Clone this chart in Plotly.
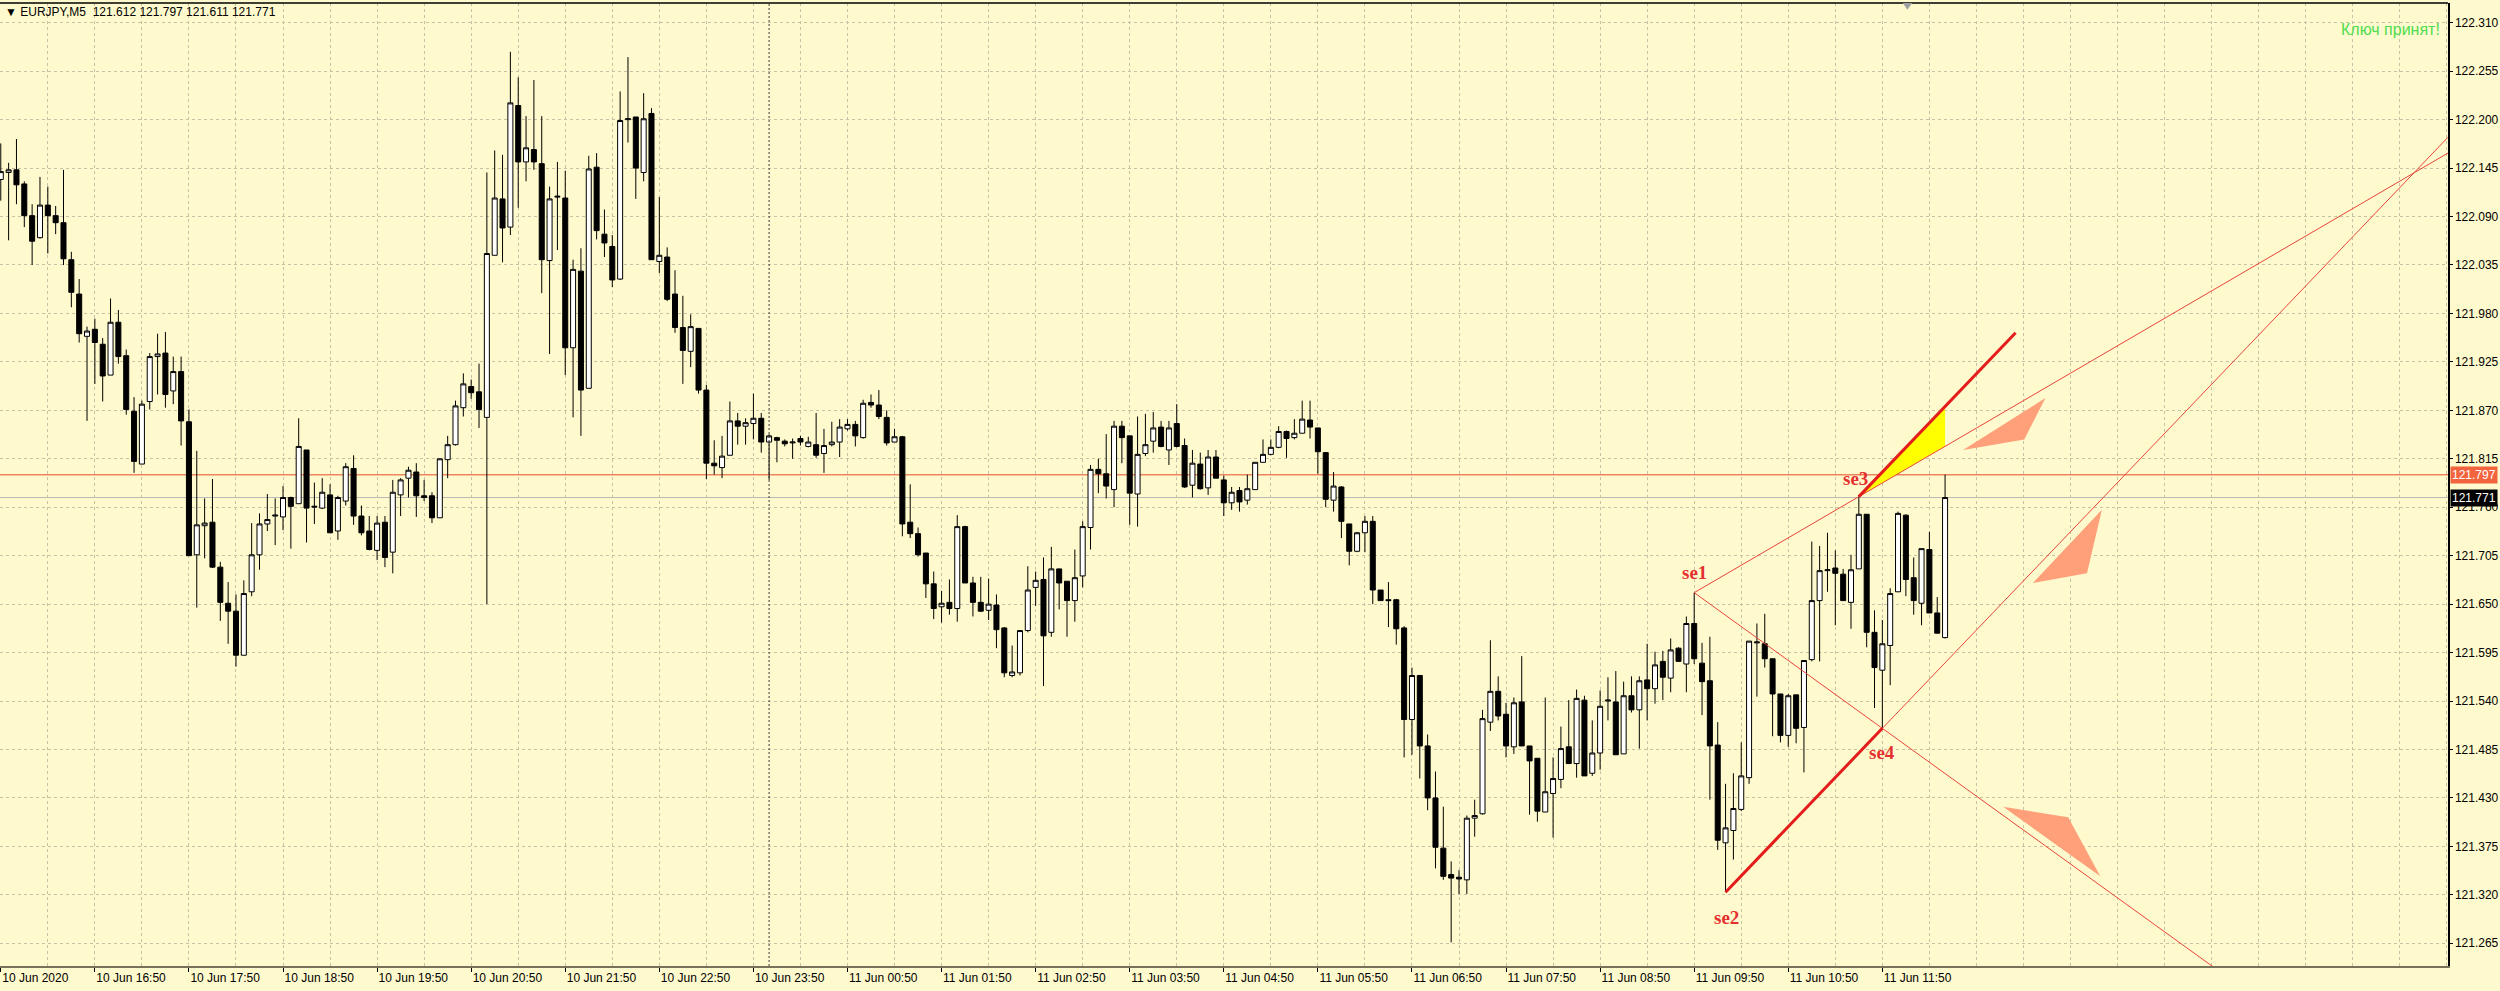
import plotly.graph_objects as go

# ---------------- data (EURJPY, M5, 10 Jun 15:50 -> 11 Jun 12:30) ----------------
opens = [
    122.132, 122.140, 122.143, 122.127, 122.091, 122.066, 122.103, 122.091, 122.083, 122.041,
    122.002, 121.954, 121.962, 121.945, 121.910, 121.970, 121.932, 121.869, 121.809, 121.880,
    121.931, 121.935, 121.892, 121.914, 121.857, 121.706, 121.739, 121.743, 121.692, 121.651,
    121.642, 121.592, 121.664, 121.706, 121.741, 121.750, 121.749, 121.771, 121.764, 121.825,
    121.760, 121.759, 121.774, 121.733, 121.767, 121.804, 121.750, 121.733, 121.711, 121.743,
    121.709, 121.774, 121.793, 121.800, 121.773, 121.773, 121.748, 121.814, 121.831, 121.873,
    121.897, 121.891, 121.862, 122.046, 122.110, 122.078, 122.216, 122.152, 122.166, 122.150,
    122.040, 122.112, 122.111, 121.941, 122.028, 121.895, 122.146, 122.070, 122.056, 122.019,
    122.200, 122.203, 122.140, 122.207, 122.039, 122.044, 122.002, 121.964, 121.937, 121.963,
    121.893, 121.810, 121.805, 121.819, 121.858, 121.852, 121.855, 121.861, 121.834, 121.839,
    121.835, 121.833, 121.838, 121.829, 121.831, 121.821, 121.831, 121.834, 121.849, 121.854,
    121.839, 121.879, 121.876, 121.862, 121.834, 121.840, 121.743, 121.730, 121.708, 121.673,
    121.647, 121.652, 121.645, 121.738, 121.674, 121.652, 121.643, 121.649, 121.623, 121.569,
    121.572, 121.620, 121.669, 121.678, 121.618, 121.690, 121.676, 121.654, 121.682, 121.737,
    121.803, 121.798, 121.780, 121.852, 121.841, 121.775, 121.821, 121.835, 121.851, 121.825,
    121.855, 121.830, 121.785, 121.809, 121.782, 121.817, 121.791, 121.765, 121.779, 121.768,
    121.780, 121.811, 121.820, 121.828, 121.846, 121.839, 121.844, 121.859, 121.850, 121.822,
    121.768, 121.783, 121.741, 121.710, 121.731, 121.744, 121.666, 121.655, 121.655, 121.623,
    121.519, 121.569, 121.489, 121.430, 121.373, 121.343, 121.340, 121.337, 121.407, 121.412,
    121.516, 121.551, 121.525, 121.488, 121.539, 121.489, 121.475, 121.414, 121.435, 121.451,
    121.488, 121.469, 121.541, 121.458, 121.481, 121.540, 121.539, 121.480, 121.546, 121.530,
    121.564, 121.554, 121.585, 121.566, 121.600, 121.582, 121.628, 121.583, 121.563, 121.490,
    121.379, 121.393, 121.417, 121.453, 121.606, 121.605, 121.588, 121.548, 121.501, 121.547,
    121.510, 121.587, 121.654, 121.688, 121.691, 121.684, 121.652, 121.690, 121.752, 121.618,
    121.575, 121.603, 121.664, 121.751, 121.680, 121.651, 121.712, 121.640, 121.612,
]
highs = [
    122.173, 122.151, 122.178, 122.130, 122.104, 122.135, 122.124, 122.102, 122.143, 122.050,
    122.019, 121.965, 121.974, 121.952, 121.997, 121.984, 121.939, 121.885, 121.881, 121.935,
    121.957, 121.959, 121.931, 121.931, 121.871, 121.824, 121.770, 121.792, 121.698, 121.675,
    121.661, 121.677, 121.742, 121.753, 121.775, 121.770, 121.784, 121.772, 121.861, 121.825,
    121.788, 121.793, 121.786, 121.773, 121.810, 121.819, 121.762, 121.750, 121.750, 121.750,
    121.791, 121.793, 121.806, 121.810, 121.791, 121.777, 121.815, 121.841, 121.881, 121.912,
    121.905, 121.923, 122.140, 122.165, 122.160, 122.277, 122.248, 122.204, 122.245, 122.204,
    122.124, 122.152, 122.142, 122.041, 122.054, 122.159, 122.162, 122.098, 122.069, 122.232,
    122.271, 122.203, 122.230, 122.213, 122.112, 122.055, 122.029, 122.000, 121.979, 121.963,
    121.899, 121.836, 121.841, 121.880, 121.867, 121.861, 121.889, 121.867, 121.843, 121.840,
    121.837, 121.838, 121.841, 121.840, 121.867, 121.849, 121.857, 121.860, 121.860, 121.858,
    121.882, 121.888, 121.893, 121.870, 121.849, 121.841, 121.786, 121.737, 121.708, 121.687,
    121.665, 121.678, 121.751, 121.739, 121.681, 121.681, 121.679, 121.661, 121.624, 121.603,
    121.620, 121.693, 121.687, 121.703, 121.715, 121.690, 121.676, 121.712, 121.744, 121.808,
    121.815, 121.843, 121.858, 121.858, 121.841, 121.863, 121.866, 121.868, 121.858, 121.858,
    121.877, 121.838, 121.825, 121.822, 121.825, 121.825, 121.796, 121.783, 121.783, 121.797,
    121.811, 121.837, 121.837, 121.852, 121.847, 121.860, 121.881, 121.881, 121.850, 121.822,
    121.800, 121.784, 121.741, 121.732, 121.750, 121.750, 121.666, 121.675, 121.656, 121.625,
    121.578, 121.569, 121.502, 121.460, 121.420, 121.358, 121.348, 121.410, 121.428, 121.530,
    121.609, 121.568, 121.538, 121.544, 121.591, 121.489, 121.475, 121.544, 121.476, 121.511,
    121.541, 121.553, 121.546, 121.518, 121.552, 121.567, 121.574, 121.562, 121.568, 121.568,
    121.605, 121.596, 121.597, 121.611, 121.601, 121.636, 121.663, 121.606, 121.613, 121.516,
    121.446, 121.458, 121.493, 121.608, 121.628, 121.639, 121.588, 121.548, 121.548, 121.547,
    121.586, 121.721, 121.716, 121.731, 121.711, 121.690, 121.706, 121.774, 121.752, 121.643,
    121.632, 121.668, 121.755, 121.752, 121.703, 121.713, 121.732, 121.658, 121.797,
]
lows = [
    122.108, 122.063, 122.104, 122.078, 122.035, 122.065, 122.048, 122.070, 122.035, 121.987,
    121.947, 121.858, 121.900, 121.880, 121.910, 121.923, 121.865, 121.799, 121.809, 121.871,
    121.888, 121.873, 121.877, 121.830, 121.705, 121.646, 121.702, 121.691, 121.631, 121.605,
    121.579, 121.592, 121.659, 121.689, 121.733, 121.717, 121.734, 121.713, 121.764, 121.720,
    121.741, 121.758, 121.731, 121.723, 121.762, 121.740, 121.728, 121.711, 121.700, 121.692,
    121.685, 121.750, 121.771, 121.749, 121.767, 121.742, 121.748, 121.793, 121.830, 121.863,
    121.883, 121.850, 121.650, 122.046, 122.038, 122.069, 122.100, 122.130, 122.143, 122.003,
    121.934, 122.052, 121.910, 121.862, 121.841, 121.895, 122.064, 122.044, 122.010, 122.018,
    122.174, 122.110, 122.130, 122.041, 122.026, 121.994, 121.958, 121.900, 121.919, 121.889,
    121.792, 121.797, 121.793, 121.819, 121.831, 121.831, 121.837, 121.822, 121.791, 121.811,
    121.829, 121.815, 121.830, 121.828, 121.816, 121.799, 121.829, 121.817, 121.847, 121.829,
    121.838, 121.873, 121.860, 121.830, 121.834, 121.727, 121.725, 121.704, 121.657, 121.633,
    121.629, 121.638, 121.630, 121.674, 121.636, 121.641, 121.632, 121.600, 121.567, 121.567,
    121.569, 121.618, 121.648, 121.557, 121.613, 121.644, 121.613, 121.630, 121.669, 121.712,
    121.776, 121.770, 121.760, 121.810, 121.740, 121.738, 121.818, 121.822, 121.828, 121.808,
    121.828, 121.782, 121.771, 121.780, 121.774, 121.793, 121.750, 121.757, 121.755, 121.763,
    121.780, 121.811, 121.819, 121.827, 121.816, 121.837, 121.844, 121.838, 121.798, 121.760,
    121.755, 121.725, 121.694, 121.709, 121.709, 121.650, 121.654, 121.624, 121.604, 121.476,
    121.479, 121.452, 121.416, 121.350, 121.337, 121.266, 121.321, 121.321, 121.386, 121.411,
    121.506, 121.518, 121.476, 121.480, 121.489, 121.411, 121.403, 121.414, 121.385, 121.441,
    121.469, 121.453, 121.455, 121.455, 121.462, 121.518, 121.479, 121.480, 121.527, 121.486,
    121.518, 121.537, 121.541, 121.550, 121.585, 121.550, 121.582, 121.524, 121.428, 121.371,
    121.323, 121.360, 121.415, 121.446, 121.545, 121.578, 121.500, 121.493, 121.488, 121.492,
    121.459, 121.585, 121.585, 121.664, 121.626, 121.654, 121.622, 121.690, 121.601, 121.532,
    121.509, 121.558, 121.664, 121.659, 121.638, 121.626, 121.640, 121.617, 121.611,
]
closes = [
    122.141, 122.143, 122.126, 122.091, 122.062, 122.103, 122.091, 122.083, 122.042, 122.004,
    121.957, 121.960, 121.947, 121.909, 121.970, 121.931, 121.871, 121.812, 121.877, 121.931,
    121.934, 121.888, 121.914, 121.858, 121.705, 121.740, 121.742, 121.692, 121.652, 121.642,
    121.592, 121.662, 121.706, 121.741, 121.746, 121.751, 121.771, 121.761, 121.829, 121.759,
    121.761, 121.777, 121.731, 121.771, 121.806, 121.750, 121.731, 121.712, 121.742, 121.703,
    121.777, 121.791, 121.802, 121.773, 121.771, 121.748, 121.815, 121.831, 121.875, 121.900,
    121.890, 121.871, 122.048, 122.111, 122.077, 122.219, 122.152, 122.168, 122.152, 122.041,
    122.110, 122.113, 121.941, 122.030, 121.893, 122.144, 122.074, 122.060, 122.018, 122.199,
    122.201, 122.145, 122.201, 122.041, 122.046, 121.996, 121.964, 121.938, 121.965, 121.893,
    121.810, 121.807, 121.818, 121.858, 121.852, 121.856, 121.861, 121.834, 121.841, 121.836,
    121.832, 121.834, 121.834, 121.834, 121.819, 121.830, 121.834, 121.851, 121.854, 121.841,
    121.878, 121.876, 121.863, 121.833, 121.840, 121.741, 121.730, 121.706, 121.673, 121.645,
    121.651, 121.645, 121.738, 121.674, 121.652, 121.642, 121.650, 121.621, 121.572, 121.573,
    121.620, 121.666, 121.677, 121.614, 121.690, 121.674, 121.654, 121.680, 121.738, 121.803,
    121.798, 121.784, 121.852, 121.839, 121.776, 121.820, 121.831, 121.850, 121.829, 121.850,
    121.829, 121.783, 121.810, 121.781, 121.817, 121.793, 121.765, 121.777, 121.766, 121.781,
    121.811, 121.820, 121.828, 121.846, 121.838, 121.844, 121.860, 121.851, 121.823, 121.769,
    121.784, 121.744, 121.710, 121.731, 121.744, 121.666, 121.654, 121.654, 121.622, 121.519,
    121.569, 121.489, 121.430, 121.374, 121.341, 121.339, 121.338, 121.407, 121.410, 121.520,
    121.551, 121.523, 121.489, 121.538, 121.489, 121.472, 121.415, 121.437, 121.452, 121.486,
    121.469, 121.543, 121.455, 121.481, 121.534, 121.541, 121.479, 121.546, 121.530, 121.563,
    121.554, 121.581, 121.567, 121.598, 121.585, 121.628, 121.588, 121.562, 121.489, 121.382,
    121.396, 121.418, 121.455, 121.608, 121.607, 121.588, 121.548, 121.501, 121.546, 121.509,
    121.586, 121.654, 121.688, 121.689, 121.685, 121.654, 121.689, 121.752, 121.618, 121.578,
    121.605, 121.662, 121.753, 121.678, 121.654, 121.713, 121.640, 121.617, 121.771,
]

# time axis labels (one every 12 bars = 1 hour)
time_labels = [
    "10 Jun 2020", "10 Jun 16:50", "10 Jun 17:50", "10 Jun 18:50", "10 Jun 19:50",
    "10 Jun 20:50", "10 Jun 21:50", "10 Jun 22:50", "10 Jun 23:50", "11 Jun 00:50",
    "11 Jun 01:50", "11 Jun 02:50", "11 Jun 03:50", "11 Jun 04:50", "11 Jun 05:50",
    "11 Jun 06:50", "11 Jun 07:50", "11 Jun 08:50", "11 Jun 09:50", "11 Jun 10:50",
    "11 Jun 11:50",
]
LABEL_STEP = 12          # bars between time labels
GRID_STEP = 6            # bars between vertical grid lines
DAY_SEPARATOR_BAR = 98   # 11 Jun 00:00
SHIFT_MARKER_BAR = 243.2

price_labels = ["122.310", "122.255", "122.200", "122.145", "122.090", "122.035", "121.980",
                "121.925", "121.870", "121.815", "121.760", "121.705", "121.650", "121.595",
                "121.540", "121.485", "121.430", "121.375", "121.320", "121.265"]

ask_line = 121.797
bid_line = 121.771

# pattern points
se_names = ["se1", "se2", "se3", "se4"]
se_bars = [216, 220, 237, 240]
se_prices = [121.663, 121.323, 121.772, 121.509]
se_label_bars = [216.0, 220.1, 236.6, 240.0]
se_label_prices = [121.686, 121.294, 121.793, 121.482]

# salmon arrow polygons (bar index / price)
arrow_bars = [[250.3, 260.8, 258.1], [259.2, 268.0, 266.1], [255.4, 263.7, 267.8]]
arrow_prices = [[121.825, 121.884, 121.837], [121.674, 121.757, 121.685], [121.420, 121.408, 121.341]]

# ---------------- geometry ----------------
X_MIN, X_MAX = -0.1, 312.15
Y_MIN, Y_MAX = 121.2392, 122.3324
W, H = 2500, 991
M_L, M_R, M_T, M_B = 0, 52, 3, 25
PLOT_H = H - M_T - M_B

BG = "#FFFACD"
GRID = "#C9C1A6"
THIN_RED = "#E8443C"
THICK_RED = "#E41C1C"
SALMON = "#FFA07A"
FONT = "Liberation Sans"

bars = list(range(len(opens)))
tick_idx = [LABEL_STEP * k for k in range(len(time_labels))]
minor_idx = list(range(0, int(X_MAX) + 1, GRID_STEP))
price_vals = [float(p) for p in price_labels]


def line_y(p, q, x):
    (x1, y1), (x2, y2) = p, q
    return y1 + (y2 - y1) * (x - x1) / (x2 - x1)


se = list(zip(se_bars, se_prices))
se1, se2, se3, se4 = se
last_bar = bars[-1]

fig = go.Figure()

# candles
fig.add_trace(go.Candlestick(
    x=bars, open=opens, high=highs, low=lows, close=closes,
    increasing=dict(line=dict(color="black", width=1), fillcolor="white"),
    decreasing=dict(line=dict(color="black", width=1), fillcolor="black"),
    whiskerwidth=0, hoverinfo="skip", showlegend=False,
))

# yellow fill between parallel and se1-se3 line
par_end = (se3[0] + (se4[0] - se2[0]), se3[1] + (se4[1] - se2[1]))
fig.add_trace(go.Scatter(
    x=[se3[0], last_bar, last_bar, se3[0]],
    y=[se3[1], line_y(se3, par_end, last_bar), line_y(se1, se3, last_bar), se3[1]],
    mode="lines", fill="toself", fillcolor="#FFFF00", line=dict(width=0),
    hoverinfo="skip", showlegend=False,
))

# thin lines
thin = [
    ([se1[0], X_MAX], [se1[1], line_y(se1, se3, X_MAX)]),
    ([se1[0], X_MAX], [se1[1], line_y(se1, se4, X_MAX)]),
    ([se4[0], X_MAX], [se4[1], line_y(se2, se4, X_MAX)]),
]
for xs, ys in thin:
    fig.add_trace(go.Scatter(x=xs, y=ys, mode="lines", line=dict(color=THIN_RED, width=1),
                             hoverinfo="skip", showlegend=False))

# thick lines
for a, b in [(se2, se4), (se3, par_end)]:
    fig.add_trace(go.Scatter(x=[a[0], b[0]], y=[a[1], b[1]], mode="lines",
                             line=dict(color=THICK_RED, width=3),
                             hoverinfo="skip", showlegend=False))

# arrows
for xs, ys in zip(arrow_bars, arrow_prices):
    fig.add_trace(go.Scatter(x=xs + xs[:1], y=ys + ys[:1], mode="lines", fill="toself",
                             fillcolor=SALMON, line=dict(width=0),
                             hoverinfo="skip", showlegend=False))

shapes = [
    dict(type="line", xref="x", yref="y", x0=X_MIN, x1=X_MAX, y0=ask_line, y1=ask_line,
         line=dict(color="#EE8560", width=1.5), layer="below"),
    dict(type="line", xref="x", yref="y", x0=X_MIN, x1=X_MAX, y0=bid_line, y1=bid_line,
         line=dict(color="#B8B8B8", width=1), layer="below"),
    dict(type="line", xref="x", yref="paper", x0=DAY_SEPARATOR_BAR, x1=DAY_SEPARATOR_BAR,
         y0=0, y1=1, line=dict(color="#3A3A3A", width=1, dash="2px,2px")),
    dict(type="line", xref="paper", yref="paper", x0=0, x1=1, y0=1, y1=1,
         line=dict(color="black", width=1.5)),
    dict(type="path", xref="x", yref="paper",
         path="M {a},1 L {b},1 L {c},0.993 Z".format(a=SHIFT_MARKER_BAR - 0.6,
                                                      b=SHIFT_MARKER_BAR + 0.6,
                                                      c=SHIFT_MARKER_BAR),
         fillcolor="#A0A0A0", line=dict(width=0)),
]

annotations = []
for name, bx, py in zip(se_names, se_label_bars, se_label_prices):
    annotations.append(dict(x=bx, y=py, xref="x", yref="y", text="<b>%s</b>" % name,
                            showarrow=False,
                            font=dict(family="Liberation Serif", size=19, color="#E53030")))


def paper_y(px):
    return 1 - (px - M_T) / PLOT_H


header = "▼ EURJPY,M5  {:.3f} {:.3f} {:.3f} {:.3f}".format(opens[-1], highs[-1], lows[-1], closes[-1])
annotations.append(dict(x=0, y=paper_y(12), xref="paper", yref="paper", xanchor="left",
                        yanchor="middle", xshift=3, text=header, showarrow=False,
                        font=dict(family=FONT, size=12, color="black")))
annotations.append(dict(x=1, y=paper_y(29), xref="paper", yref="paper", xanchor="right",
                        yanchor="middle", xshift=-6, text="Ключ принят!", showarrow=False,
                        font=dict(family=FONT, size=16, color="#4FDC4F")))
for price, bg in [(ask_line, "#F2643E"), (bid_line, "#000000")]:
    annotations.append(dict(x=1, y=price, xref="paper", yref="y", xanchor="left",
                            yanchor="middle", xshift=2, text="{:.3f}".format(price),
                            showarrow=False, bgcolor=bg, borderpad=1,
                            font=dict(family=FONT, size=12, color="white")))

fig.update_layout(
    width=W, height=H,
    margin=dict(l=M_L, r=M_R, t=M_T, b=M_B, pad=0),
    paper_bgcolor=BG, plot_bgcolor=BG,
    showlegend=False, hovermode=False,
    boxgap=0.2, boxgroupgap=0.2,
    shapes=shapes, annotations=annotations,
    xaxis=dict(
        range=[X_MIN, X_MAX], tickvals=tick_idx, ticktext=time_labels,
        ticks="outside", ticklen=4, tickcolor="black",
        ticklabelposition="outside right",
        tickfont=dict(family=FONT, size=12, color="black"),
        showgrid=True, gridcolor=GRID, gridwidth=1, griddash="3px,3px",
        minor=dict(tickvals=minor_idx, showgrid=True, gridcolor=GRID, griddash="3px,3px",
                   ticks=""),
        showline=True, linecolor="#77725A", linewidth=2,
        zeroline=False, rangeslider=dict(visible=False), fixedrange=True,
    ),
    yaxis=dict(
        range=[Y_MIN, Y_MAX], side="right", tickvals=price_vals, ticktext=price_labels,
        ticks="outside", ticklen=3, tickcolor="black",
        tickfont=dict(family=FONT, size=12, color="black"),
        showgrid=True, gridcolor=GRID, gridwidth=1, griddash="3px,3px",
        showline=True, linecolor="black", linewidth=1.5,
        zeroline=False, fixedrange=True,
    ),
)

fig.write_html(
    "out.html",
    config={"displayModeBar": False, "staticPlot": True},
    post_script="document.body.style.margin='0';document.body.style.overflow='hidden';"
                "document.body.style.background='" + BG + "';",
)
